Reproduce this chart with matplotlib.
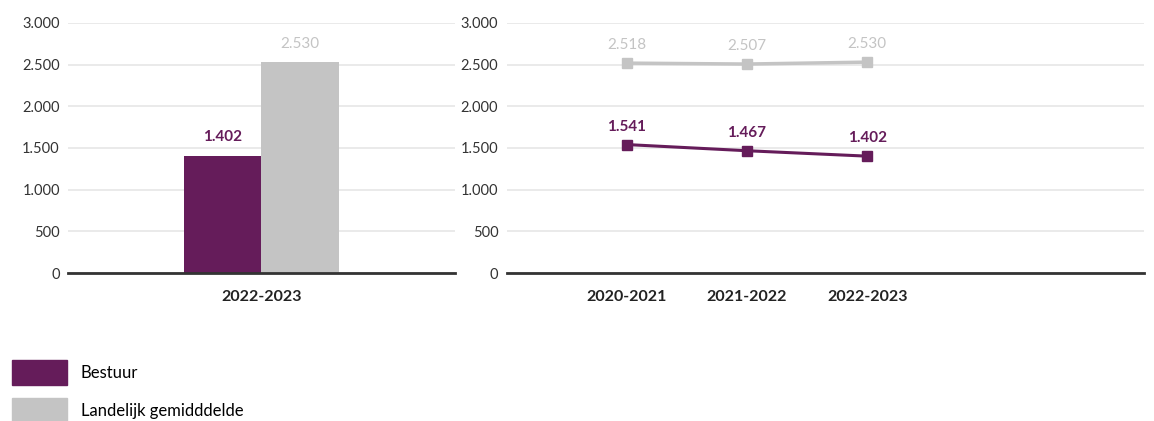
import matplotlib.pyplot as plt
from matplotlib.patches import Patch

years = ["2020-2021", "2021-2022", "2022-2023"]
bestuur = [1541, 1467, 1402]
landelijk = [2518, 2507, 2530]
bar_year = "2022-2023"
bar_bestuur = 1402
bar_landelijk = 2530
yticks = [0, 500, 1000, 1500, 2000, 2500, 3000]

purple = "#651c5a"
grey = "#c4c4c4"
plt.rcParams['font.family'] = ['Lato', 'DejaVu Sans']


def fmt(v):
    return "{:,}".format(v).replace(",", ".")


def style_axes(ax):
    ax.set_ylim(0, 3000)
    ax.set_yticks(yticks)
    ax.set_yticklabels([fmt(t) for t in yticks], fontsize=10.5, color="#333333")
    ax.yaxis.grid(True, color="#e6e6e6", linewidth=1.2)
    ax.set_axisbelow(True)
    for s in ["top", "right", "left"]:
        ax.spines[s].set_visible(False)
    ax.spines["bottom"].set_color("#333333")
    ax.spines["bottom"].set_linewidth(2)
    ax.tick_params(axis="y", length=0, pad=6)
    ax.tick_params(axis="x", length=0, pad=12, labelsize=11.5)
    for lab in ax.get_xticklabels():
        lab.set_fontweight("bold")
        lab.set_color("#222222")


fig = plt.figure(figsize=(11.54, 4.21), dpi=100)

# bar chart
ax1 = fig.add_axes([0.059, 0.3515, 0.335, 0.594])
w = 0.2
ax1.bar([-w / 2], [bar_bestuur], width=w, color=purple)
ax1.bar([w / 2], [bar_landelijk], width=w, color=grey)
ax1.set_xlim(-0.5, 0.5)
ax1.set_xticks([0])
ax1.set_xticklabels([bar_year])
style_axes(ax1)
ax1.annotate(fmt(bar_bestuur), (-w / 2, bar_bestuur), xytext=(0, 11),
             textcoords="offset points", ha="center", fontsize=11,
             color=purple, fontweight="bold")
ax1.annotate(fmt(bar_landelijk), (w / 2, bar_landelijk), xytext=(0, 10),
             textcoords="offset points", ha="center", fontsize=11,
             color=grey)

# line chart
ax2 = fig.add_axes([0.439, 0.3515, 0.552, 0.594])
x = list(range(len(years)))
ax2.plot(x, landelijk, color=grey, linewidth=2.5, marker="s", markersize=7)
ax2.plot(x, bestuur, color=purple, linewidth=2.2, marker="s", markersize=7)
ax2.set_xlim(-1, 4.3)
ax2.set_xticks(x)
ax2.set_xticklabels(years)
style_axes(ax2)
for xi, v in zip(x, landelijk):
    ax2.annotate(fmt(v), (xi, v), xytext=(0, 10), textcoords="offset points",
                 ha="center", fontsize=11, color=grey)
for xi, v in zip(x, bestuur):
    ax2.annotate(fmt(v), (xi, v), xytext=(0, 10), textcoords="offset points",
                 ha="center", fontsize=11, color=purple, fontweight="bold")

handles = [Patch(color=purple, label="Bestuur"),
           Patch(color=grey, label="Landelijk gemidddelde")]
fig.legend(handles=handles, loc="lower left", bbox_to_anchor=(-0.003, -0.04),
           frameon=False, fontsize=12, handlelength=3.3, handleheight=1.95,
           labelspacing=0.75, handletextpad=0.85)

plt.savefig("out.png", dpi=100)
